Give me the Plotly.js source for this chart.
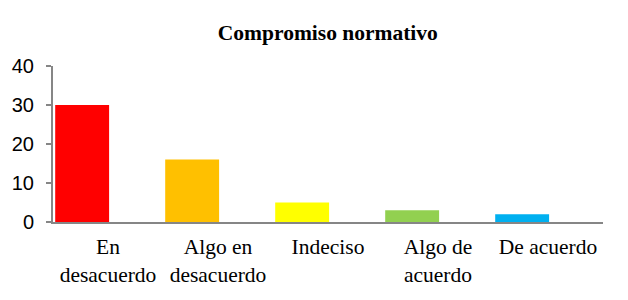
<!DOCTYPE html>
<html><head><meta charset="utf-8">
<script src="https://cdn.plot.ly/plotly-3.0.1.min.js"></script>
<style>html,body{margin:0;padding:0;background:#fff}</style>
</head><body>
<div id="chart" style="width:628px;height:300px"></div>
<script>
const categories = ["En<br>desacuerdo", "Algo en<br>desacuerdo", "Indeciso", "Algo de<br>acuerdo", "De acuerdo"];
const values = [30, 16, 5, 3, 2];
const colors = ["#FF0000", "#FFC000", "#FFFF00", "#92D050", "#00B0F0"];
const yTicks = [0, 10, 20, 30, 40];

Plotly.newPlot("chart", [{
  type: "bar",
  x: categories,
  y: values,
  marker: {color: colors},
  width: 0.49,
  offset: -0.48,
  hoverinfo: "none"
}], {
  width: 628, height: 300,
  margin: {l: 53, r: 25, t: 66, b: 78},
  paper_bgcolor: "#fff", plot_bgcolor: "#fff",
  title: {text: "<b>Compromiso normativo</b>", x: 0.522, xanchor: "center", y: 0.893, yanchor: "middle",
          font: {family: "Liberation Serif, Times New Roman, serif", size: 21.5, color: "#000"}},
  xaxis: {type: "category", showline: true, linecolor: "#868686", linewidth: 2,
          ticks: "", showgrid: false, zeroline: false, range: [-0.5, 4.5], ticklabelstandoff: 4,
          tickfont: {family: "Liberation Serif, Times New Roman, serif", size: 21.5, color: "#000"}},
  yaxis: {range: [0, 40], tickvals: yTicks, showline: true, linecolor: "#868686", linewidth: 2,
          ticks: "outside", ticklen: 5, tickcolor: "#868686", tickwidth: 1.5,
          showgrid: false, zeroline: false, ticklabelstandoff: 8,
          tickfont: {family: "Liberation Sans, Arial, sans-serif", size: 20, color: "#000"}},
  showlegend: false,
  bargap: 0.5
}, {staticPlot: true});
</script>
</body></html>
